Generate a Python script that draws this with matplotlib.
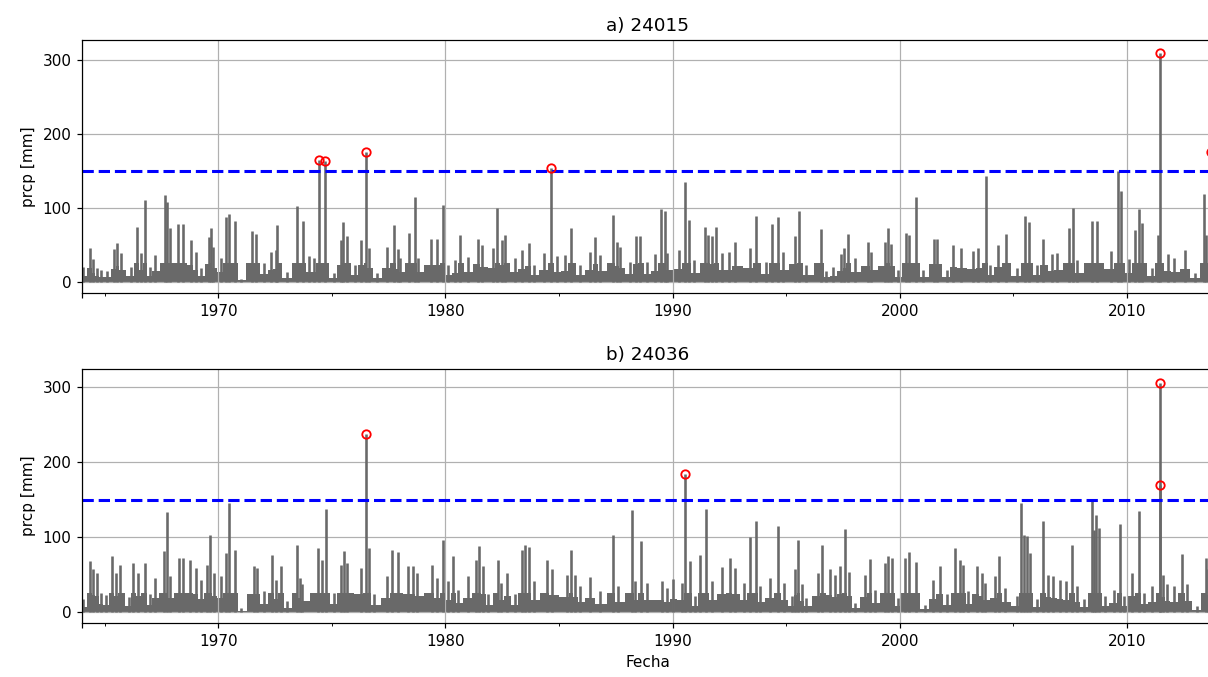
import numpy as np
import matplotlib.pyplot as plt
from matplotlib.ticker import FixedLocator, FuncFormatter

# picos (fecha en anos decimales, prcp en mm)
fecha_a = [1964.06, 1964.35, 1964.50, 1964.68, 1964.85, 1965.12, 1965.41, 1965.56, 1965.70, 1966.14,
           1966.44, 1966.58, 1966.76, 1966.99, 1967.20, 1967.64, 1967.76, 1967.87, 1968.23, 1968.46,
           1968.78, 1969.00, 1969.22, 1969.60, 1969.66, 1969.75, 1970.10, 1970.32, 1970.48, 1970.72,
           1970.98, 1971.50, 1971.64, 1972.01, 1972.33, 1972.52, 1972.60, 1973.04, 1973.45, 1973.75,
           1973.99, 1974.21, 1974.43, 1974.68, 1975.09, 1975.38, 1975.50, 1975.67, 1976.00, 1976.29,
           1976.50, 1976.63, 1976.99, 1977.43, 1977.73, 1977.90, 1978.02, 1978.38, 1978.66, 1978.80,
           1979.35, 1979.62, 1979.88, 1980.13, 1980.43, 1980.65, 1981.01, 1981.45, 1981.60, 1982.11,
           1982.28, 1982.48, 1982.63, 1983.07, 1983.36, 1983.66, 1983.88, 1984.35, 1984.64, 1984.90,
           1985.27, 1985.52, 1985.93, 1986.37, 1986.59, 1986.81, 1987.37, 1987.55, 1987.69, 1988.14,
           1988.38, 1988.58, 1988.87, 1989.24, 1989.50, 1989.65, 1989.75, 1990.26, 1990.56, 1990.71,
           1990.93, 1991.44, 1991.54, 1991.73, 1991.91, 1992.17, 1992.47, 1992.76, 1993.42, 1993.69,
           1994.13, 1994.38, 1994.63, 1994.86, 1995.40, 1995.58, 1995.88, 1996.54, 1996.76, 1997.06,
           1997.43, 1997.53, 1997.72, 1998.01, 1998.60, 1998.75, 1999.34, 1999.49, 1999.63, 1999.93,
           2000.26, 2000.40, 2000.71, 2001.03, 2001.50, 2001.62, 2002.06, 2002.35, 2002.68, 2003.21,
           2003.46, 2003.78, 2003.97, 2004.34, 2004.66, 2005.15, 2005.51, 2005.71, 2006.03, 2006.32,
           2006.69, 2006.91, 2007.43, 2007.62, 2007.79, 2008.46, 2008.68, 2009.29, 2009.60, 2009.74,
           2010.07, 2010.37, 2010.51, 2010.66, 2011.10, 2011.37, 2011.44, 2011.79, 2012.06, 2012.57,
           2013.01, 2013.40, 2013.50, 2013.68]
prcp_a = [20, 46, 30, 18, 15, 14, 44, 52, 38, 20,
          74, 38, 110, 20, 36, 117, 108, 72, 78, 78,
          56, 40, 18, 60, 72, 47, 32, 88, 92, 82,
          4, 68, 65, 25, 40, 43, 76, 13, 102, 82,
          34, 32, 164, 163, 11, 56, 80, 62, 22, 56,
          175, 45, 11, 47, 77, 44, 32, 66, 115, 32,
          57, 57, 104, 22, 29, 63, 33, 58, 50, 45,
          99, 56, 63, 32, 43, 52, 22, 38, 154, 34,
          36, 73, 22, 40, 60, 36, 90, 54, 47, 27,
          61, 62, 27, 37, 98, 95, 38, 43, 135, 83,
          29, 74, 63, 61, 74, 38, 40, 54, 45, 89,
          26, 78, 87, 40, 61, 96, 22, 71, 14, 20,
          37, 45, 64, 32, 53, 40, 54, 73, 51, 16,
          66, 63, 114, 16, 58, 58, 16, 50, 46, 42,
          46, 143, 22, 50, 64, 18, 89, 81, 22, 57,
          37, 38, 72, 100, 29, 82, 82, 42, 149, 122,
          30, 70, 98, 79, 18, 63, 309, 37, 32, 43,
          11, 118, 63, 175]

fecha_b = [1964.06, 1964.35, 1964.50, 1964.68, 1964.82, 1965.04, 1965.31, 1965.48, 1965.67, 1966.07,
           1966.26, 1966.47, 1966.76, 1966.98, 1967.20, 1967.61, 1967.73, 1967.87, 1968.27, 1968.46,
           1968.74, 1969.00, 1969.25, 1969.52, 1969.62, 1969.81, 1970.10, 1970.32, 1970.47, 1970.72,
           1970.98, 1971.57, 1971.69, 1972.01, 1972.38, 1972.52, 1972.74, 1973.04, 1973.45, 1973.58,
           1973.70, 1974.40, 1974.57, 1974.72, 1975.09, 1975.38, 1975.53, 1975.67, 1976.26, 1976.51,
           1976.63, 1976.85, 1977.43, 1977.65, 1977.92, 1978.34, 1978.58, 1978.75, 1979.40, 1979.62,
           1979.88, 1980.13, 1980.35, 1980.57, 1981.01, 1981.35, 1981.48, 1981.64, 1981.89, 1982.31,
           1982.44, 1982.73, 1983.07, 1983.36, 1983.51, 1983.69, 1983.88, 1984.46, 1984.68, 1985.35,
           1985.54, 1985.71, 1985.93, 1986.37, 1986.81, 1987.37, 1987.58, 1988.21, 1988.36, 1988.60,
           1988.87, 1989.53, 1989.75, 1990.01, 1990.41, 1990.56, 1990.75, 1991.00, 1991.22, 1991.47,
           1991.73, 1992.17, 1992.51, 1992.76, 1993.13, 1993.42, 1993.69, 1993.86, 1994.27, 1994.63,
           1994.89, 1995.26, 1995.40, 1995.53, 1995.71, 1995.88, 1996.40, 1996.59, 1996.91, 1997.13,
           1997.35, 1997.57, 1997.76, 1998.01, 1998.46, 1998.68, 1998.90, 1999.34, 1999.46, 1999.68,
           1999.93, 2000.22, 2000.40, 2000.71, 2001.10, 2001.47, 2001.76, 2002.06, 2002.43, 2002.65,
           2002.79, 2003.01, 2003.38, 2003.60, 2003.75, 2004.19, 2004.38, 2004.63, 2005.15, 2005.34,
           2005.49, 2005.59, 2005.74, 2006.03, 2006.32, 2006.54, 2006.76, 2007.06, 2007.32, 2007.60,
           2007.79, 2008.09, 2008.46, 2008.53, 2008.65, 2008.79, 2009.04, 2009.41, 2009.71, 2009.85,
           2010.22, 2010.51, 2010.74, 2011.10, 2011.44, 2011.45, 2011.59, 2011.76, 2012.06, 2012.43,
           2012.65, 2013.09, 2013.46, 2013.59]
prcp_b = [17, 68, 57, 52, 26, 23, 75, 52, 63, 20,
          66, 52, 66, 24, 46, 82, 134, 48, 72, 72,
          69, 59, 43, 63, 103, 52, 48, 79, 145, 83,
          5, 61, 59, 28, 76, 43, 62, 15, 89, 46,
          37, 86, 70, 137, 26, 63, 81, 66, 59, 238,
          86, 24, 48, 83, 80, 61, 61, 52, 63, 46,
          96, 41, 75, 30, 48, 70, 88, 61, 24, 70,
          39, 52, 24, 83, 89, 87, 41, 70, 57, 50,
          83, 50, 35, 47, 28, 103, 35, 136, 41, 95,
          39, 41, 32, 44, 39, 184, 68, 21, 76, 137,
          41, 60, 72, 59, 39, 100, 121, 35, 46, 115,
          39, 21, 57, 96, 37, 19, 52, 89, 58, 49,
          61, 111, 53, 12, 50, 71, 30, 66, 75, 72,
          19, 72, 80, 67, 10, 43, 61, 24, 86, 70,
          63, 28, 61, 52, 39, 48, 75, 32, 21, 145,
          103, 101, 79, 17, 121, 50, 48, 43, 41, 89,
          35, 17, 149, 110, 130, 112, 21, 30, 118, 21,
          52, 135, 26, 35, 305, 169, 50, 37, 35, 78,
          38, 8, 72, 57]

umbral = 150
titulos = ['a) 24015', 'b) 24036']
anios_mayor = [1964, 1970, 1980, 1990, 2000, 2010]
anios_menor = [1965, 1975, 1985, 1995, 2005]

fig = plt.figure(figsize=(1208 / 110, 677 / 110), dpi=110)
ax1 = fig.add_axes([0.0679, 0.5672, 0.937, 0.3737])
ax2 = fig.add_axes([0.0679, 0.0798, 0.937, 0.3751])

series = [(ax1, fecha_a, prcp_a, (-15.5, 327)), (ax2, fecha_b, prcp_b, (-14.5, 324))]
for i, (ax, fecha, prcp, ylim) in enumerate(series):
    t = np.array(fecha)
    v = np.array(prcp, dtype=float)
    orden = np.argsort(t)
    t, v = t[orden], v[orden]

    # masa de lluvias pequenas entre los picos
    ax.fill_between(t, 0, np.minimum(v * 0.4, 25), step='mid', color='dimgray', lw=0)
    ax.vlines(t, 0, v, color='dimgray', lw=1.7)
    ax.axhline(umbral, color='b', ls='--', lw=2)
    sobre = v > umbral
    ax.plot(t[sobre], v[sobre], 'o', mfc='none', mec='r', ms=5.5, mew=1.2)

    ax.set_xlim(1964.0, 2013.83)
    ax.set_ylim(*ylim)
    ax.set_yticks([0, 100, 200, 300])
    ax.xaxis.set_major_locator(FixedLocator(anios_mayor))
    ax.xaxis.set_minor_locator(FixedLocator(anios_menor))
    ax.xaxis.set_major_formatter(FuncFormatter(lambda x, p: '' if x == 1964 else '%d' % x))
    ax.grid(True)
    ax.set_ylabel('prcp [mm]')
    ax.set_title(titulos[i])

ax2.set_xlabel('Fecha')

plt.savefig('out.png', dpi=110)
